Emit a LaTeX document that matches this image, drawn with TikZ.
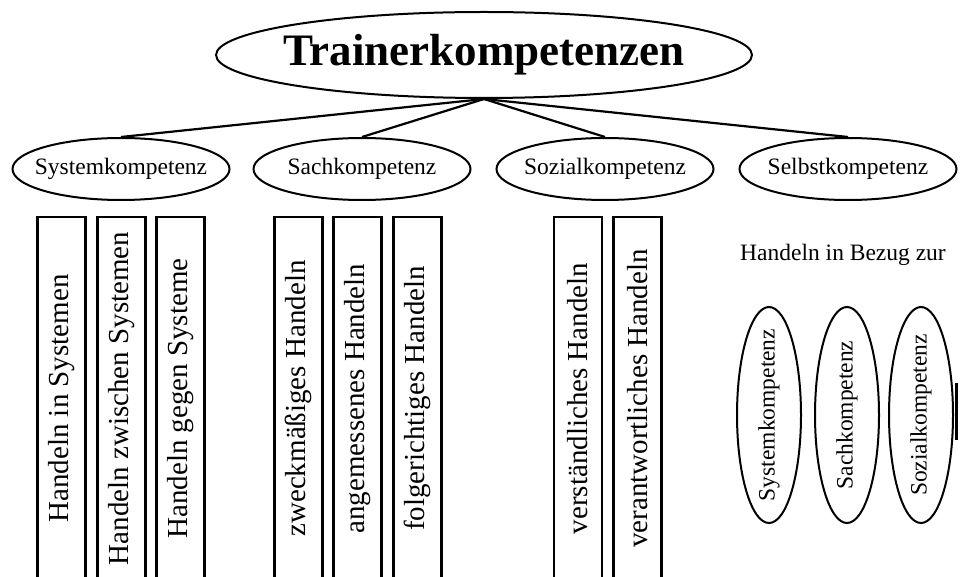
\documentclass[tikz,border=0pt]{standalone}
\usepackage{fontspec}
\setmainfont{Liberation Serif}
\usetikzlibrary{shapes.geometric}
\begin{document}
\begin{tikzpicture}[x=1pt,y=-1pt,
  topell/.style={draw,line width=2pt,ellipse,inner sep=0pt,minimum width=536pt,minimum height=86pt},
  toptext/.style={inner sep=0pt,font=\fontsize{45}{48}\selectfont\bfseries},
  midell/.style={draw,line width=2pt,ellipse,inner sep=0pt,minimum width=217pt,minimum height=62pt},
  vell/.style={draw,line width=2pt,ellipse,inner sep=0pt,minimum width=64pt,minimum height=216pt},
  lbl/.style={inner sep=0pt,font=\fontsize{23.5}{25}\selectfont},
  vlbl/.style={inner sep=0pt,rotate=90,font=\fontsize{23.5}{25}\selectfont},
  colbox/.style={draw,line width=2.5pt,rectangle,inner sep=0pt,rotate=90,minimum width=363pt,minimum height=48pt,font=\fontsize{29}{30}\selectfont},
  conn/.style={line width=2.2pt}]
\useasboundingbox (0,0) rectangle (960,577);
\clip (0,0) rectangle (960,577);
\fill[white] (0,0) rectangle (960,577);
\node[topell] (top) at (484,55) {};
\node[toptext] (toplbl) at (top.center) {Trainerkompetenzen};
\node[midell] (sys) at (121,169) {};
\node[lbl] (syslbl) at (sys.center) {Systemkompetenz};
\node[midell] (sach) at (362,169) {};
\node[lbl] (sachlbl) at (sach.center) {Sachkompetenz};
\node[midell] (soz) at (605,169) {};
\node[lbl] (sozlbl) at (soz.center) {Sozialkompetenz};
\node[midell] (selb) at (848,169) {};
\node[lbl] (selblbl) at (selb.center) {Selbstkompetenz};
\draw[conn] (top.south) -- (sys.north);
\draw[conn] (top.south) -- (sach.north);
\draw[conn] (top.south) -- (soz.north);
\draw[conn] (top.south) -- (selb.north);
\node[colbox] (b1) at (61.5,398.5) {Handeln in Systemen};
\node[colbox] (b2) at (121.5,398.5) {Handeln zwischen Systemen};
\node[colbox] (b3) at (180.5,398.5) {Handeln gegen Systeme};
\node[colbox] (b4) at (298.5,398.5) {zweckmäßiges Handeln};
\node[colbox] (b5) at (357.5,398.5) {angemessenes Handeln};
\node[colbox] (b6) at (417.5,398.5) {folgerichtiges Handeln};
\node[colbox] (b7) at (578,398.5) {verständliches Handeln};
\node[colbox] (b8) at (637.5,398.5) {verantwortliches Handeln};
\node[lbl,anchor=base] (bez) at (843,260) {Handeln in Bezug zur};
\node[vell] (v1) at (769,415) {};
\node[vlbl] (v1lbl) at (v1.center) {Systemkompetenz};
\node[vell] (v2) at (847,415) {};
\node[vlbl] (v2lbl) at (v2.center) {Sachkompetenz};
\node[vell] (v3) at (921,415) {};
\node[vlbl] (v3lbl) at (v3.center) {Sozialkompetenz};
\coordinate (barA) at (956.5,383);
\coordinate (barB) at (956.5,440);
\draw[line width=3pt] (barA) -- (barB);
\end{tikzpicture}
\end{document}
